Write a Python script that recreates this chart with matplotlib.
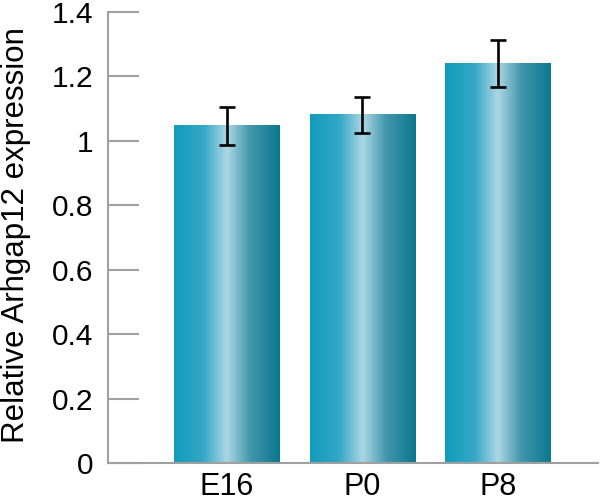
import numpy as np
import matplotlib.pyplot as plt
from matplotlib.colors import LinearSegmentedColormap

plt.rcParams['font.family'] = ['Liberation Sans', 'DejaVu Sans']

categories = ['E16', 'P0', 'P8']
values = [1.047, 1.081, 1.239]
errors = [0.059, 0.056, 0.073]
y_ticks = [0, 0.2, 0.4, 0.6, 0.8, 1, 1.2, 1.4]
y_tick_labels = ['0', '0.2', '0.4', '0.6', '0.8', '1', '1.2', '1.4']

# horizontal gradient of each bar: teal edges, pale centre
bar_cmap = LinearSegmentedColormap.from_list('bar', [
    (0.00, '#129bbc'),
    (0.28, '#35a8c6'),
    (0.50, '#acd7e4'),
    (0.72, '#4296ab'),
    (1.00, '#0b788d'),
])

fig = plt.figure(figsize=(6.0, 5.03), dpi=100)
ax = fig.add_axes([0.18, 0.0795, 0.817, 0.8965])

x = np.arange(len(categories))
width = 0.775
bars = ax.bar(x, values, width=width, color='none', edgecolor='none', zorder=2)

grad = np.linspace(0, 1, 256).reshape(1, -1)
for rect in bars:
    x0 = rect.get_x()
    h = rect.get_height()
    ax.imshow(grad, cmap=bar_cmap, aspect='auto', interpolation='bicubic',
              extent=(x0, x0 + rect.get_width(), 0, h), zorder=2)

ax.errorbar(x, values, yerr=errors, fmt='none', ecolor='black',
            elinewidth=1.9, capsize=5.5, capthick=1.9, zorder=3)

ax.set_xlim(-0.875, 2.74)
ax.set_ylim(0, 1.4)

ax.set_yticks(y_ticks)
ax.set_yticklabels(y_tick_labels)
ax.set_xticks(x)
ax.set_xticklabels(categories)

for side in ['top', 'right']:
    ax.spines[side].set_visible(False)
for side in ['left', 'bottom']:
    ax.spines[side].set_color('#a0a0a0')
    ax.spines[side].set_linewidth(1.5)

ax.tick_params(axis='y', direction='in', length=22.5, width=1.5, color='#a0a0a0',
               labelsize=21.5, pad=10.5)
ax.tick_params(axis='x', length=0, labelsize=22, pad=6.5)

ax.set_ylabel('Relative Arhgap12 expression', fontsize=22.5)
ax.yaxis.set_label_coords(-0.157, 0.505)

fig.savefig('out.png', dpi=100)
